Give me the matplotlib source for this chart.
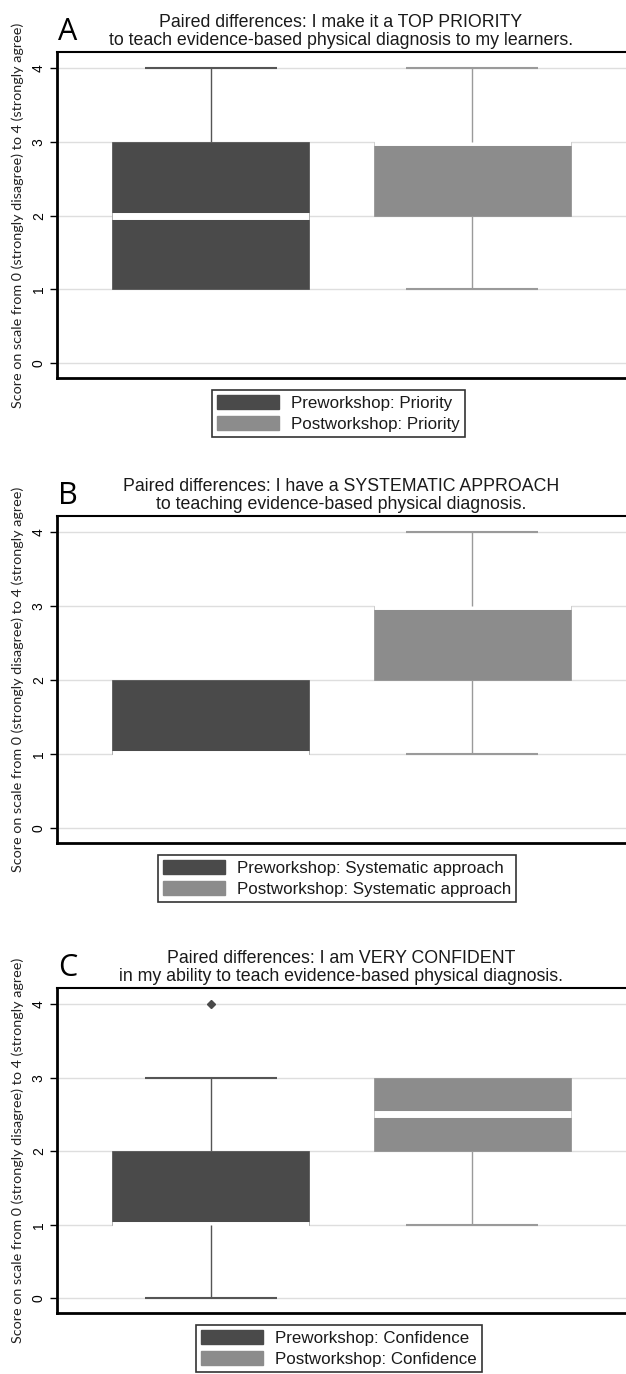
import numpy as np
import matplotlib
matplotlib.use("Agg")
import matplotlib.pyplot as plt
from matplotlib.patches import Patch

W, H = 626, 1374

# box stats per panel: [pre, post]
letters = ["A", "B", "C"]
titles = [
    ("Paired differences: I make it a TOP PRIORITY",
     "to teach evidence-based physical diagnosis to my learners."),
    ("Paired differences: I have a SYSTEMATIC APPROACH",
     "to teaching evidence-based physical diagnosis."),
    ("Paired differences: I am VERY CONFIDENT",
     "in my ability to teach evidence-based physical diagnosis."),
]
legend_names = ["Priority", "Systematic approach", "Confidence"]
q1 = [[1, 2], [1, 2], [1, 2]]
med = [[2, 3], [1, 3], [1, 2.5]]
q3 = [[3, 3], [2, 3], [2, 3]]
whislo = [[1, 1], [1, 1], [0, 1]]
whishi = [[4, 4], [2, 4], [3, 3]]
outliers = [[[], []], [[], []], [[4], []]]

yticks = [0, 1, 2, 3, 4]
ylabel = "Score on scale from 0 (strongly disagree) to 4 (strongly agree)"

pre_col = "#4a4a4a"
post_col = "#8c8c8c"
whisk_cols = ["#555555", "#9a9a9a"]

# layout in pixels (top, bottom of each plot area, legend top/left)
ax_top = [52, 516, 988]
ax_bot = [378, 843, 1313]
leg_top = [390, 855, 1325]
leg_left = [212, 158, 196]
left_px = 57

fig = plt.figure(figsize=(W / 100, H / 100), dpi=100)
fig.patch.set_facecolor("white")

xpos = [1, 2]
bw = 0.753
cw = 0.505

for i in range(3):
    top, bot = ax_top[i], ax_bot[i]
    ax = fig.add_axes([left_px / W, 1 - bot / H, (W - left_px) / W, (bot - top) / H])
    ax.set_xlim(0.413, 2.587)
    ax.set_ylim(-0.2, 4.22)
    ax.set_yticks(yticks)
    ax.set_yticklabels([str(t) for t in yticks], rotation=90, va="center",
                       fontsize=10, family="Liberation Sans")
    ax.set_xticks([])
    ax.tick_params(axis="y", length=5, width=1, pad=3, colors="black")
    for y in yticks:
        ax.axhline(y, color="#dedede", lw=1, zorder=0)
    for s in ["left", "bottom"]:
        ax.spines[s].set_linewidth(2)
    ax.spines["top"].set_linewidth(1.5)
    ax.spines["right"].set_visible(False)

    for j, c in enumerate([pre_col, post_col]):
        x = xpos[j]
        ax.bar(x, q3[i][j] - q1[i][j], bottom=q1[i][j], width=bw, color=c,
               edgecolor=c, lw=0.5, zorder=2)
        ax.hlines(med[i][j], x - bw / 2, x + bw / 2, color="white", lw=5, zorder=3)
        if whishi[i][j] > q3[i][j]:
            ax.vlines(x, q3[i][j], whishi[i][j], color=whisk_cols[j], lw=1, zorder=4)
            ax.hlines(whishi[i][j], x - cw / 2, x + cw / 2, color=whisk_cols[j], lw=1.5, zorder=4)
        if whislo[i][j] < q1[i][j]:
            ax.vlines(x, whislo[i][j], q1[i][j], color=whisk_cols[j], lw=1, zorder=4)
            ax.hlines(whislo[i][j], x - cw / 2, x + cw / 2, color=whisk_cols[j], lw=1.5, zorder=4)
        if outliers[i][j]:
            ax.plot([x] * len(outliers[i][j]), outliers[i][j], marker="D", ms=4,
                    color=c, ls="none", zorder=5)

    # titles and panel letter
    fig.text(341 / W, 1 - (top - 25) / H, titles[i][0], ha="center", va="baseline",
             fontsize=12.8, family="Liberation Sans", color="#1a1a1a")
    fig.text(341 / W, 1 - (top - 7) / H, titles[i][1], ha="center", va="baseline",
             fontsize=12.8, family="Liberation Sans", color="#1a1a1a")
    fig.text(58 / W, 1 - (top - 12) / H, letters[i], ha="left", va="baseline",
             fontsize=22, family="Open Sans", color="black")
    fig.text(18 / W, 1 - ((top + bot) / 2) / H, ylabel, rotation=90, ha="center",
             va="center", fontsize=10.4, family="Lato", color="#222222")

    handles = [Patch(facecolor=pre_col, edgecolor=pre_col),
               Patch(facecolor=post_col, edgecolor=post_col)]
    labels = ["Preworkshop: " + legend_names[i], "Postworkshop: " + legend_names[i]]
    leg = ax.legend(handles, labels, loc="upper left",
                    bbox_to_anchor=(leg_left[i] / W, 1 - leg_top[i] / H),
                    bbox_transform=fig.transFigure, borderaxespad=0,
                    fancybox=False, frameon=True, edgecolor="black",
                    prop={"family": "Liberation Sans", "size": 12.2},
                    handlelength=3.65, handleheight=0.9, handletextpad=0.7,
                    labelspacing=0.3, borderpad=0.3)
    leg.get_frame().set_linewidth(1.2)
    for t in leg.get_texts():
        t.set_color("#1a1a1a")

fig.savefig("out.png", dpi=100)
